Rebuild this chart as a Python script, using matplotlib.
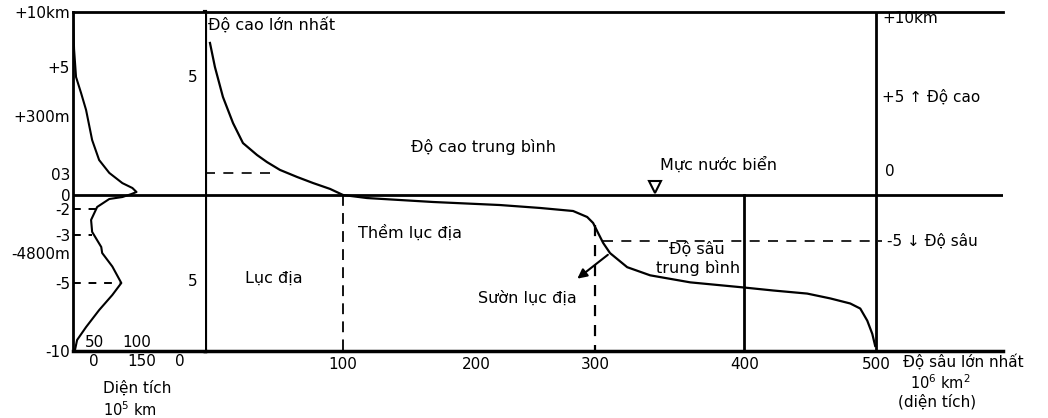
import numpy as np
import matplotlib
matplotlib.use("Agg")
import matplotlib.pyplot as plt
import matplotlib.transforms as mtransforms

plt.rcParams['font.family'] = ['DejaVu Sans']

# ---------------- data ----------------
# hypsographic curve: cumulative area (10^6 km^2) vs elevation (km)
AREA_CUM = [3.6, 7.2, 13, 20.3, 27.5, 37.7, 44.9, 54.3, 66.7, 78.3, 90.6, 100,
            118, 167.7, 220, 253.8, 281.5, 293.3, 298.3, 302, 305.4, 310, 321.5,
            336.9, 363.8, 399.3, 422, 447.7, 465.2, 480.3, 487.9, 493.2, 497, 499.2]
ELEV = [8.18, 6.76, 5.0, 3.67, 2.65, 2.04, 1.68, 1.28, 0.92, 0.61, 0.31, 0.0,
        -0.33, -0.76, -1.09, -1.41, -1.74, -2.39, -3.04, -4.13, -5.09, -5.55, -6.19,
        -6.56, -6.88, -7.11, -7.25, -7.39, -7.61, -7.84, -8.07, -8.62, -9.22, -9.77]
MEAN_HEIGHT = 1.12
MEAN_HEIGHT_AREA = 53
MEAN_DEPTH = -5
MEAN_DEPTH_AREA = 305
SHELF_EDGE = 100
SLOPE_EDGE = 300
SLOPE_EDGE_ELEV = -3.3
AREA_400 = 400
AREA_TOTAL = 500
SEA_MARK_AREA = 340
SEA_MARK_ELEV = 0.41
X_TICKS = [100, 200, 300, 400, 500]
X_TICK_LABELS = ['100', '200', '300', '400', '500']

# frequency distribution of elevation (left panel)
LEFT_AREA = [0, 0.5, 0.8, 2.3, 6.1, 9.9, 14.5, 19.8, 27.5, 37.4, 45, 48.1, 44.3,
             37.4, 27.5, 18.3, 13.7, 14.5, 21.4, 22.1, 29.8, 36.6, 29.8, 19.8, 9.9,
             3.1, 1.5]
LEFT_ELEV = [10, 7.88, 6.63, 4.04, 2.51, 0.88, 0.188, 0.095, 0.035, 0.017, 0.01,
             0.0043, 0.0014, -0.29, -0.57, -1.71, -2.42, -2.88, -4.2, -4.8, -4.89,
             -5.0, -5.88, -6.99, -8.24, -9.19, -9.93]
LEFT_TICK_VALUES = [10, 5, 0.3, 0.03, 0, -2, -3, -4.8, -5, -10]
LEFT_TICK_LABELS = ['+10km', '+5', '+300m', '03', '0', '-2', '-3', '-4800m', '-5', '-10']
LEFT_DASH_ELEV = [-2, -3, -5]
LEFT_DASH_AREA = [17.6, 14.5, 36.6]

RIGHT_VALUES = [10, 5, 0, -5]
RIGHT_LABELS = ['+10km', '+5 \u2191 Độ cao', '0', '-5 \u2193 Độ sâu']

# ---------------- figure ----------------
W, H = 1048, 418
fig = plt.figure(figsize=(W / 100, H / 100), dpi=100)

TOP_PX, BOT_PX = 12, 351
LX0, LX1, MX1 = 73, 205, 1003
ax = fig.add_axes([LX1 / W, (H - BOT_PX) / H, (MX1 - LX1) / W, (BOT_PX - TOP_PX) / H])
axl = fig.add_axes([LX0 / W, (H - BOT_PX) / H, (LX1 - LX0) / W, (BOT_PX - TOP_PX) / H])

# piecewise-linear scales (schematic diagram)
mx_v = np.array([0, 100, 200, 300, 400, 500, 600], float)
mx_p = np.array([205, 343, 476, 595, 744, 876, 1008], float)
ax.set_xscale('function', functions=(lambda x: np.interp(x, mx_v, mx_p),
                                     lambda p: np.interp(p, mx_p, mx_v)))
my_v = np.array([-10, -5, 0, 5, 10], float)
my_p = np.array([0, 110, 156, 254, 339], float)
ax.set_yscale('function', functions=(lambda y: np.interp(y, my_v, my_p),
                                     lambda p: np.interp(p, my_p, my_v)))
ly_v = np.array([-10, -5, -4.8, -3, -2, 0, 0.03, 0.3, 5, 10], float)
ly_p = np.array([0, 68, 98, 116, 142, 156, 177, 235, 284, 339], float)
axl.set_yscale('function', functions=(lambda y: np.interp(y, ly_v, ly_p),
                                      lambda p: np.interp(p, ly_p, ly_v)))

ax.set_xlim(0, 596)
ax.set_ylim(-10, 10)
axl.set_xlim(0, 100)
axl.set_ylim(-10, 10)

FS = 11
BIG = 11.5

# spines
for a in (ax, axl):
    a.spines['right'].set_visible(False)
    a.spines['top'].set_linewidth(2)
    a.spines['bottom'].set_linewidth(2.5)
ax.spines['left'].set_linewidth(3)
axl.spines['left'].set_linewidth(2)

# ---------------- main panel ----------------
ax.axhline(0, color='black', lw=2)
ax.plot([AREA_400, AREA_400], [0, -10], color='black', lw=2)
ax.plot([AREA_TOTAL, AREA_TOTAL], [-10, 10], color='black', lw=2)
ax.plot([SHELF_EDGE, SHELF_EDGE], [0, -10], color='black', lw=1.3, ls=(0, (6, 4)))
ax.plot([SLOPE_EDGE, SLOPE_EDGE], [SLOPE_EDGE_ELEV, -10], color='black', lw=1.6, ls=(0, (5, 4)))
ax.plot([0, MEAN_HEIGHT_AREA], [MEAN_HEIGHT, MEAN_HEIGHT], color='black', lw=1.2, ls=(0, (6, 5)))
ax.plot([MEAN_DEPTH_AREA, 504], [MEAN_DEPTH, MEAN_DEPTH], color='black', lw=1.2, ls=(0, (6, 5)))
ax.plot(AREA_CUM, ELEV, color='black', lw=1.6, solid_joinstyle='round')
ax.plot(SEA_MARK_AREA, SEA_MARK_ELEV, marker='v', ms=8, mfc='white', mec='black', mew=1.5)

ax.annotate('', xy=(283.2, -6.79), xytext=(310, -5.55),
            arrowprops=dict(arrowstyle='-|>', lw=1.5, color='black', mutation_scale=14))

ax.text(2.2, 9.24, 'Độ cao lớn nhất', fontsize=BIG, ha='left', va='center')
ax.text(206, 2.45, 'Độ cao trung bình', fontsize=BIG, ha='center', va='center')
ax.text(382.6, 1.53, 'Mực nước biển', fontsize=BIG, ha='center', va='center')
ax.text(111.3, -4.13, 'Thềm lục địa', fontsize=BIG, ha='left', va='center')
ax.text(50, -6.7, 'Lục địa', fontsize=BIG, ha='center', va='center')
ax.text(242.9, -7.61, 'Sườn lục địa', fontsize=BIG, ha='center', va='center')
ax.text(368.5, -5.37, 'Độ sâu', fontsize=BIG, ha='center', va='center')
ax.text(369, -6.24, 'trung bình', fontsize=BIG, ha='center', va='center')

right_offsets = [(4.5, -4.5), (4.5, 0), (6.5, 17), (7.5, 0)]
for v, lab, off in zip(RIGHT_VALUES, RIGHT_LABELS, right_offsets):
    ax.annotate(lab, xy=(AREA_TOTAL, v), xytext=off, textcoords='offset points',
                ha='left', va='center', fontsize=FS)

ax.set_xticks(X_TICKS)
ax.set_xticklabels(X_TICK_LABELS)
ax.set_yticks([])
ax.tick_params(axis='x', length=0, pad=4, labelsize=FS)

bt = mtransforms.blended_transform_factory(ax.transData, ax.transAxes)
ax.text(520.5, -0.032, 'Độ sâu lớn nhất', transform=bt, fontsize=FS, ha='left', va='center')
ax.text(548.5, -0.094, '10$^6$ km$^2$', transform=bt, fontsize=FS - 0.5, ha='center', va='center')
ax.text(546, -0.15, '(diện tích)', transform=bt, fontsize=FS, ha='center', va='center')

# ---------------- left panel ----------------
axl.axhline(0, color='black', lw=2)
axl.plot(LEFT_AREA, LEFT_ELEV, color='black', lw=1.5, solid_joinstyle='round')
for e, a in zip(LEFT_DASH_ELEV, LEFT_DASH_AREA):
    axl.plot([0, a], [e, e], color='black', lw=1.4, ls=(0, (4, 4)))

axl.set_yticks(LEFT_TICK_VALUES)
axl.set_yticklabels(LEFT_TICK_LABELS)
axl.tick_params(axis='y', length=0, pad=2, labelsize=FS)
axl.set_xticks([])

axl.text(0.94, 0.808, '5', transform=axl.transAxes, fontsize=FS, ha='right', va='center')
axl.text(0.94, 0.204, '5', transform=axl.transAxes, fontsize=FS, ha='right', va='center')
for xf, lab in [(0.16, '50'), (0.48, '100')]:
    axl.text(xf, 0.024, lab, transform=axl.transAxes, fontsize=FS, ha='center', va='center')
for xf, lab in [(0.16, '0'), (0.52, '150'), (0.81, '0')]:
    axl.text(xf, -0.03, lab, transform=axl.transAxes, fontsize=FS, ha='center', va='center')
axl.text(0.49, -0.109, 'Diện tích', transform=axl.transAxes, fontsize=FS, ha='center', va='center')
axl.text(0.43, -0.174, '10$^5$ km', transform=axl.transAxes, fontsize=FS - 0.5, ha='center', va='center')

fig.savefig('out.png', dpi=100, facecolor='white')
